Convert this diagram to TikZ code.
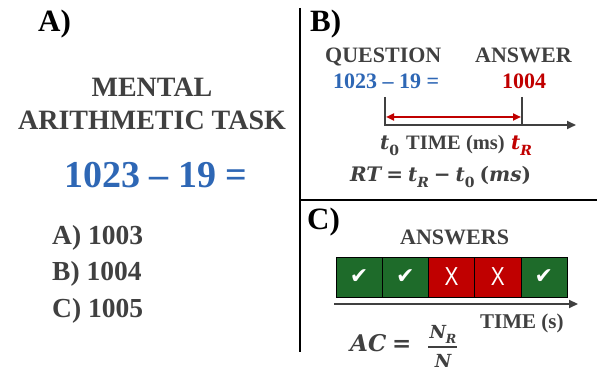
\documentclass[tikz,border=0pt]{standalone}
\usepackage{fontspec}
\setmainfont{Liberation Serif}
\newfontfamily\djv{DejaVu Sans}
\newfontfamily\mfont{DejaVu Serif}
\newfontfamily\lsans{Liberation Sans}
\usetikzlibrary{arrows.meta}
\definecolor{dg}{HTML}{404040}
\definecolor{qblue}{HTML}{2E67B5}
\definecolor{ared}{HTML}{C00000}
\definecolor{agreen}{HTML}{1E6B2A}
\newcommand\fsz[1]{\fontsize{#1}{#1}\selectfont}
\newcommand\mt[1]{{\mfont\bfseries\itshape #1}}
\newcommand\mup[1]{{\mfont\bfseries #1}}
\newcommand\sbs[1]{\raisebox{-0.3em}{\fontsize{0.7em}{0.7em}\selectfont #1}}
\begin{document}
\begin{tikzpicture}[x=1pt,y=-1pt,
  txt/.style={inner sep=0pt,font=\bfseries,text=dg},
  panel/.style={inner sep=0pt,font=\bfseries\fsz{31},text=black,anchor=base west},
  ansbox/.style={draw=black,line width=0.6pt,minimum width=46.2pt,minimum height=40pt,inner sep=0pt,text=white},
  axis/.style={draw=dg,line width=2pt},
  divider/.style={draw=black,line width=1.5pt}]
\useasboundingbox (0,0) rectangle (597,371);

% dividers
\coordinate (v1) at (300,8);
\coordinate (v2) at (300,352);
\coordinate (h1) at (300,200);
\coordinate (h2) at (597,200);
\draw[divider] (v1) -- (v2);
\draw[divider] (h1) -- (h2);

% panel A
\node[panel] (pa) at (38,32) {A)};
\node[txt,anchor=base,font=\bfseries\fsz{28}] (m1) at (152,97) {MENTAL};
\node[txt,anchor=base,font=\bfseries\fsz{28}] (m2) at (152,130) {ARITHMETIC TASK};
\node[txt,anchor=base,text=qblue,font=\bfseries\fsz{38}] (eq) at (156,188) {1023 – 19 =};
\node[txt,anchor=base west,font=\bfseries\fsz{27.5}] (o1) at (52,245) {A) 1003};
\node[txt,anchor=base west,font=\bfseries\fsz{27.5}] (o2) at (52,281) {B) 1004};
\node[txt,anchor=base west,font=\bfseries\fsz{27.5}] (o3) at (52,318) {C) 1005};

% panel B
\node[panel] (pb) at (310,32) {B)};
\node[txt,anchor=base west,font=\bfseries\fsz{22}] (qq) at (325,63) {QUESTION};
\node[txt,anchor=base west,font=\bfseries\fsz{22}] (aa) at (475,63) {ANSWER};
\node[txt,anchor=base west,text=qblue,font=\bfseries\fsz{22}] (qeq) at (333,89) {1023 – 19 =};
\node[txt,anchor=base west,text=ared,font=\bfseries\fsz{22}] (ans) at (502,89) {1004};
\coordinate (t0top) at (385,97);
\coordinate (t0b) at (385,125);
\coordinate (tend) at (576,125);
\coordinate (tRtop) at (522,97);
\coordinate (tRb) at (522,125);
\draw[axis,-{Triangle[length=9pt,width=8pt]}] (t0top) -- (t0b) -- (tend);
\draw[axis] (tRtop) -- (tRb);
\coordinate (r1) at (386,117);
\coordinate (r2) at (521,117);
\draw[draw=ared,line width=2pt,{Triangle[length=8pt,width=7pt]}-{Triangle[length=8pt,width=7pt]}] (r1) -- (r2);
\node[txt,anchor=base west,font=\fsz{20}] (lt0) at (380,150) {\mt{t}\sbs{\mup{0}}};
\node[txt,anchor=base west,font=\bfseries\fsz{20.5}] (ltime) at (406,150) {TIME (ms)};
\node[txt,anchor=base west,text=ared,font=\fsz{20}] (ltR) at (511,150) {\mt{t}\sbs{\mt{R}}};
\node[txt,anchor=base west,font=\fsz{20}] (rt) at (350,182) {\mt{RT} \mup{=} \mt{t}\sbs{\mt{R}} \mup{−} \mt{t}\sbs{\mup{0}} \mup{(}\mt{ms}\mup{)}};

% panel C
\node[panel] (pc) at (307,230) {C)};
\node[txt,anchor=base west,font=\bfseries\fsz{22}] (answers) at (400,245) {ANSWERS};
\node[ansbox,fill=agreen] (b1) at (359.1,277) {\djv\fsz{22}✔};
\node[ansbox,fill=agreen] (b2) at (405.3,277) {\djv\fsz{22}✔};
\node[ansbox,fill=ared] (b3) at (451.5,277) {\lsans\fsz{26}\scalebox{0.8}[1]{X}};
\node[ansbox,fill=ared] (b4) at (497.7,277) {\lsans\fsz{26}\scalebox{0.8}[1]{X}};
\node[ansbox,fill=agreen] (b5) at (543.9,277) {\djv\fsz{22}✔};
\coordinate (ax1) at (334,304);
\coordinate (ax2) at (578,304);
\draw[draw=dg,line width=2.5pt,-{Triangle[length=9pt,width=8pt]}] (ax1) -- (ax2);
\node[txt,anchor=base west,font=\bfseries\fsz{21}] (ltimes) at (480,328) {TIME (s)};
\node[txt,anchor=base west,font=\fsz{23}] (ac) at (350,352) {\mt{AC} \mup{=}};
\node[txt,anchor=base,font=\fsz{18}] (num) at (443,338) {\mt{N}\sbs{\mt{R}}};
\node[txt,anchor=base,font=\fsz{18}] (den) at (443,367) {\mt{N}};
\coordinate (f1) at (428,347);
\coordinate (f2) at (457,347);
\draw[draw=dg,line width=1.5pt] (f1) -- (f2);
\end{tikzpicture}
\end{document}
